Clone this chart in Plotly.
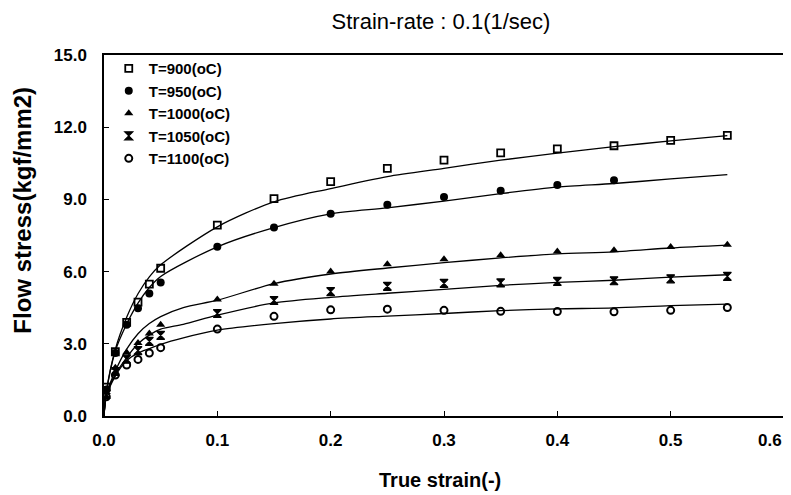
import plotly.graph_objects as go

# ---- data ----
strain_pts = [0.002, 0.01, 0.02, 0.03, 0.04, 0.05, 0.1, 0.15, 0.2, 0.25, 0.3, 0.35, 0.4, 0.45, 0.5, 0.55]
stress_900 = [1.2, 2.67, 3.89, 4.73, 5.48, 6.14, 7.93, 9.03, 9.74, 10.29, 10.63, 10.93, 11.1, 11.23, 11.45, 11.66]
stress_950 = [1.1, 2.62, 3.79, 4.48, 5.09, 5.55, 7.03, 7.83, 8.4, 8.78, 9.1, 9.36, 9.6, 9.8]
stress_1000 = [1.0, 2.0, 2.64, 3.03, 3.43, 3.79, 4.84, 5.5, 6.0, 6.31, 6.51, 6.68, 6.83, 6.89, 7.02, 7.12]
stress_1050 = [0.9, 1.85, 2.36, 2.72, 3.1, 3.35, 4.26, 4.8, 5.17, 5.39, 5.51, 5.53, 5.59, 5.62, 5.7, 5.8]
stress_1100 = [0.8, 1.7, 2.12, 2.35, 2.62, 2.84, 3.61, 4.14, 4.41, 4.44, 4.39, 4.35, 4.34, 4.33, 4.39, 4.51]

# fitted curves
curve_x_hi = [0, 0.002, 0.01, 0.02, 0.03, 0.04, 0.05, 0.1, 0.15, 0.2, 0.25, 0.3, 0.35, 0.4, 0.45, 0.5, 0.55]
curve_900 = [0, 1.0, 2.77, 4.1, 5.08, 5.78, 6.28, 7.86, 8.9, 9.45, 9.95, 10.29, 10.63, 10.92, 11.19, 11.43, 11.65]
curve_950 = [0, 0.95, 2.7, 3.82, 4.69, 5.34, 5.8, 7.03, 7.83, 8.4, 8.65, 8.93, 9.24, 9.51, 9.66, 9.85, 10.03]
curve_x_lo = [0, 0.002, 0.01, 0.02, 0.03, 0.04, 0.05, 0.07, 0.1, 0.15, 0.2, 0.25, 0.3, 0.35, 0.4, 0.45, 0.5, 0.55]
curve_1000 = [0, 0.9, 1.87, 2.78, 3.42, 3.84, 4.13, 4.5, 4.81, 5.5, 5.9, 6.15, 6.37, 6.57, 6.74, 6.82, 6.98, 7.1]
curve_1050 = [0, 0.85, 1.73, 2.43, 3.0, 3.36, 3.61, 3.81, 4.19, 4.7, 4.93, 5.1, 5.26, 5.43, 5.55, 5.64, 5.77, 5.87]
curve_1100 = [0, 0.8, 1.66, 2.3, 2.61, 2.8, 2.98, 3.25, 3.57, 3.84, 4.03, 4.15, 4.26, 4.38, 4.45, 4.49, 4.59, 4.65]

series_names = ["T=900(oC)", "T=950(oC)", "T=1000(oC)", "T=1050(oC)", "T=1100(oC)"]
x_ticks = [0.0, 0.1, 0.2, 0.3, 0.4, 0.5, 0.6]
y_ticks = [0.0, 3.0, 6.0, 9.0, 12.0, 15.0]

FONT = "Liberation Sans, Arial, sans-serif"
TICKFONT = dict(family=FONT, size=17, color="black", weight="bold")

fig = go.Figure()

curves = [(curve_x_hi, curve_900), (curve_x_hi, curve_950), (curve_x_lo, curve_1000),
          (curve_x_lo, curve_1050), (curve_x_lo, curve_1100)]
for cx, cy in curves:
    fig.add_trace(go.Scatter(x=cx, y=cy, mode="lines", showlegend=False, hoverinfo="skip",
                             line=dict(color="black", width=1.3, shape="spline", smoothing=0.8)))

point_sets = [stress_900, stress_950, stress_1000, stress_1050, stress_1100]
symbols = ["square-open", "circle", "triangle-up", "hourglass", "circle-open"]
sizes = [7, 8, 8, 8, 7]
lw = [1.8, 0, 0, 1.2, 2]
for name, ys, sym, sz, w in zip(series_names, point_sets, symbols, sizes, lw):
    fig.add_trace(go.Scatter(x=strain_pts[:len(ys)], y=ys, mode="markers", name=name,
                             marker=dict(symbol=sym, size=sz, color="black",
                                         line=dict(color="black", width=w))))

axis_common = dict(showline=True, linecolor="black", linewidth=1.5, mirror=True, automargin=False,
                   ticks="inside", ticklen=5, tickcolor="black", showgrid=False, zeroline=False,
                   tickfont=TICKFONT)

# last x label (0.6) sits at the right edge; drawn as an annotation so it stays inside the page
x_ticktext = [f"{v:.1f}" for v in x_ticks[:-1]] + [""]
fig.update_xaxes(range=[0, 0.6], tickvals=x_ticks, ticktext=x_ticktext,
                 ticklabelstandoff=8, **axis_common)
fig.update_yaxes(range=[0, 15], tickvals=y_ticks, ticktext=[f"{v:.1f}" for v in y_ticks],
                 ticklabelstandoff=12, **axis_common)

fig.add_annotation(text=f"<b>{x_ticks[-1]:.1f}</b>", xref="paper", yref="paper",
                   x=1.0, y=-0.068, xanchor="right", yanchor="middle", showarrow=False,
                   font=TICKFONT)
fig.add_annotation(text="Flow stress(kgf/mm2)", textangle=-90, xref="paper", yref="paper",
                   x=-0.12, y=0.57, xanchor="center", yanchor="middle", showarrow=False,
                   font=dict(family=FONT, size=24, color="black", weight="bold"))
fig.add_annotation(text="True strain(-)", xref="paper", yref="paper",
                   x=0.494, y=-0.177, xanchor="center", yanchor="middle", showarrow=False,
                   font=dict(family=FONT, size=20, color="black", weight="bold"))

fig.update_layout(
    width=783, height=487,
    margin=dict(l=96, r=7, t=47, b=79, autoexpand=False),
    paper_bgcolor="white", plot_bgcolor="white",
    title=dict(text="Strain-rate : 0.1(1/sec)", x=0.553, xanchor="center", yref="container",
               y=0.973, yanchor="middle",
               font=dict(family=FONT, size=22, color="black")),
    legend=dict(x=0.007, y=1.008, xanchor="left", yanchor="top", bgcolor="rgba(0,0,0,0)",
                font=dict(family=FONT, size=15, color="black", weight="bold"),
                itemwidth=30, tracegroupgap=2),
    showlegend=True,
)

fig.write_html("out.html")
